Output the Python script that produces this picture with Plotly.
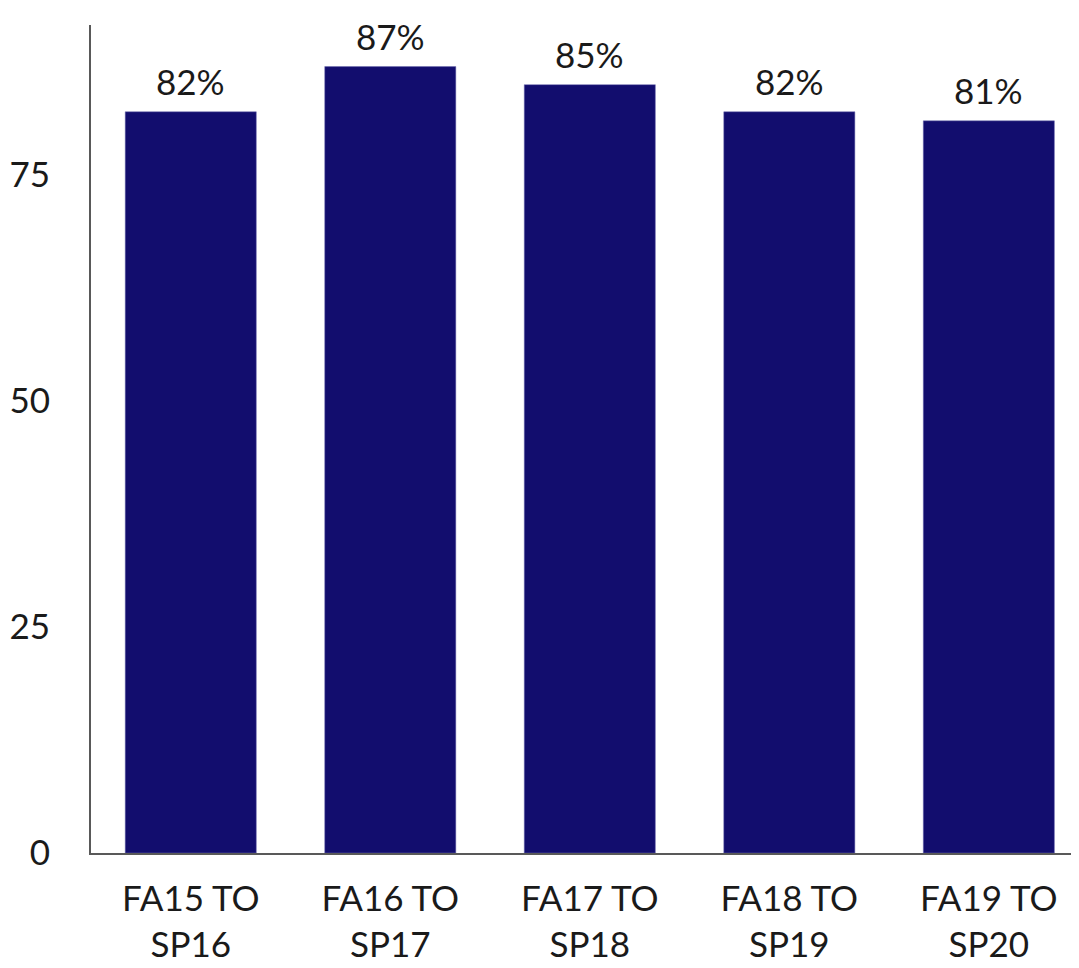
import plotly.graph_objects as go

# data
terms = ['FA15 TO<br>SP16', 'FA16 TO<br>SP17', 'FA17 TO<br>SP18', 'FA18 TO<br>SP19', 'FA19 TO<br>SP20']
retention = [82, 87, 85, 82, 81]
y_ticks = [0, 25, 50, 75]

font_family = 'Lato, sans-serif'

fig = go.Figure()

fig.add_trace(go.Bar(
    x=terms,
    y=retention,
    marker_color='#120d6e',
    marker_line=dict(color='#6f6cb0', width=0.5),
    cliponaxis=False,
))

# value labels above the bars
for t, v in zip(terms, retention):
    fig.add_annotation(
        x=t, y=v, text=f'{v}%',
        showarrow=False, yanchor='bottom', yshift=8,
        font=dict(size=35, color='#1a1a1a', family=font_family),
    )

# page body adds ~8px offset, margins compensate
fig.update_layout(
    width=1079,
    height=968,
    margin=dict(l=83, r=0, t=17, b=123),
    plot_bgcolor='white',
    paper_bgcolor='white',
    bargap=0.343,
    showlegend=False,
    font=dict(family=font_family, size=35, color='#1a1a1a'),
    xaxis=dict(
        range=[-0.5, 4.492],
        automargin=False,
        showline=True,
        linecolor='#595959',
        linewidth=2,
        showgrid=False,
        ticks='',
        ticklabelstandoff=14,
    ),
    yaxis=dict(
        range=[0, 91.6],
        tickvals=y_ticks,
        automargin=False,
        showline=True,
        linecolor='#595959',
        linewidth=2,
        showgrid=False,
        zeroline=False,
        ticks='',
        ticklabelstandoff=32,
    ),
)

fig.write_html('out.html')
